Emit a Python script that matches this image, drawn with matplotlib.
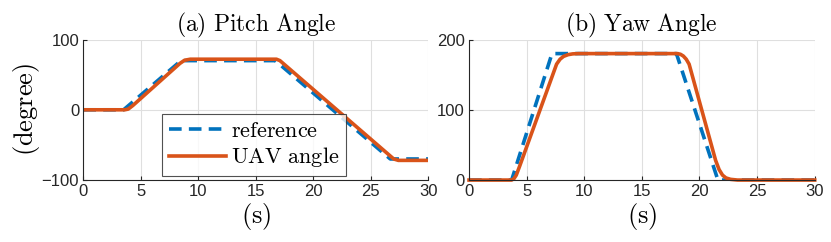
import numpy as np
import matplotlib
matplotlib.use("Agg")
import matplotlib.pyplot as plt

plt.rcParams['mathtext.fontset'] = 'cm'
plt.rcParams['font.family'] = ['Liberation Sans', 'DejaVu Sans']

# pitch angle (degree) vs time (s)
t_pitch_ref = [0, 3.5, 8.5, 16.7, 26.7, 30]
pitch_ref = [0, 0, 70, 70, -70, -70]
t_pitch_uav = [0, 3.6, 3.9, 4.3, 8.4, 8.8, 9.3, 16.8, 17.1, 27.0, 27.4, 30]
pitch_uav = [0, 0, 1, 6, 66, 70.5, 72, 72, 70, -70, -72, -72]

# yaw angle (degree) vs time (s)
t_yaw_ref = [0, 3.7, 7.2, 18.0, 21.6, 30]
yaw_ref = [0, 0, 180, 180, 0, 0]
t_yaw_uav = [0, 3.7, 3.9, 4.1, 4.4, 7.6, 7.9, 8.2, 8.6, 9.0, 9.5,
             18.1, 18.35, 18.6, 18.85, 19.1, 21.4, 21.7, 22.0, 22.3, 22.7, 23.3, 30]
yaw_uav = [0, 0, 2, 7, 20, 165, 172, 176, 178.5, 179.6, 180,
           180, 179, 176.5, 172, 165, 28, 15, 7, 3, 1, 0, 0]

blue = '#0072BD'
orange = '#D95319'

fig = plt.figure(figsize=(8.31, 2.42), dpi=100)
ax1 = fig.add_axes([0.1003, 0.256, 0.415, 0.5806])
ax2 = fig.add_axes([0.5644, 0.256, 0.416, 0.5806])


def style(ax, ylim, yticks):
    ax.set_xlim(0, 30)
    ax.set_ylim(*ylim)
    ax.set_xticks([0, 5, 10, 15, 20, 25, 30])
    ax.set_yticks(yticks)
    ax.grid(color='#dfdfdf', linewidth=0.8)
    ax.set_axisbelow(True)
    for s in ['top', 'right']:
        ax.spines[s].set_visible(False)
    for s in ['left', 'bottom']:
        ax.spines[s].set_color('#262626')
        ax.spines[s].set_linewidth(0.8)
    ax.tick_params(direction='in', length=3, width=0.8, color='#262626',
                   labelsize=12, labelcolor='#262626', pad=3)
    ax.set_xlabel(r'$\mathrm{(s)}$', fontsize=19, labelpad=1)


ax1.plot(t_pitch_ref, pitch_ref, '--', color=blue, lw=2.6, dashes=(3.5, 2.0),
         label=r'$\mathrm{reference}$')
ax1.plot(t_pitch_uav, pitch_uav, '-', color=orange, lw=2.6,
         label=r'$\mathrm{UAV\ angle}$')
style(ax1, (-100, 100), [-100, 0, 100])
ax1.set_title(r'$\mathrm{(a)\ Pitch\ Angle}$', fontsize=17, pad=3)
ax1.set_ylabel(r'$\mathrm{(degree)}$', fontsize=19, labelpad=0)
leg = ax1.legend(loc='lower left', bbox_to_anchor=(0.228, 0.028), fontsize=16,
                 frameon=True, fancybox=False, edgecolor='#262626',
                 handlelength=2.6, handletextpad=0.2, borderpad=0.3,
                 labelspacing=0.15, borderaxespad=0)
leg.get_frame().set_linewidth(0.8)

ax2.plot(t_yaw_ref, yaw_ref, '--', color=blue, lw=2.6, dashes=(3.5, 2.0))
ax2.plot(t_yaw_uav, yaw_uav, '-', color=orange, lw=2.6, clip_on=False)
style(ax2, (0, 200), [0, 100, 200])
ax2.set_title(r'$\mathrm{(b)\ Yaw\ Angle}$', fontsize=17, pad=3)

fig.savefig('out.png', dpi=100)
